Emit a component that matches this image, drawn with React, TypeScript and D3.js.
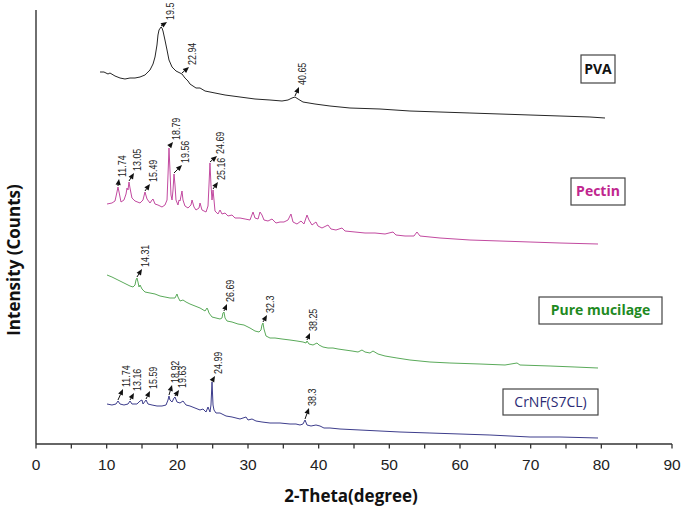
import React from "react";
import * as d3 from "d3";

// ---- data: [2-theta (deg), intensity (counts, offset-stacked)] ----
const pvaData: [number, number][] = [
  [9.06, 3800], [9.62, 3800], [10.19, 3780], [10.47, 3790], [11.18, 3760], [11.89, 3740], [12.59, 3730],
  [13.3, 3740], [14.01, 3740], [14.72, 3750], [15.42, 3770], [16.13, 3820], [16.56, 3880], [16.84, 3950],
  [17.12, 4070], [17.26, 4170], [17.41, 4220], [17.69, 4250], [17.83, 4240], [17.97, 4210], [18.25, 4120],
  [18.54, 4020], [18.82, 3920], [19.25, 3850], [19.81, 3810], [20.38, 3790], [20.66, 3780], [21.08, 3740],
  [21.51, 3710], [21.79, 3680], [22.64, 3640], [23.21, 3640], [23.92, 3610], [25.33, 3590], [26.75, 3570],
  [28.87, 3550], [30.99, 3530], [33.11, 3520], [34.81, 3510], [35.66, 3520], [36.23, 3540], [36.65, 3550],
  [37.08, 3530], [37.78, 3500], [39.48, 3480], [41.6, 3460], [44.43, 3440], [48.68, 3430], [52.92, 3410],
  [57.17, 3400], [61.41, 3390], [65.66, 3380], [69.91, 3370], [74.15, 3360], [78.39, 3350], [80.52, 3340],
];

const pectinData: [number, number][] = [
  [10.05, 2480], [10.75, 2490], [11.18, 2510], [11.46, 2600], [11.6, 2650], [11.75, 2600], [12.03, 2500],
  [12.45, 2520], [12.74, 2580], [12.88, 2640], [13.02, 2620], [13.16, 2700], [13.3, 2640], [13.58, 2540],
  [14.01, 2510], [14.72, 2490], [15.14, 2520], [15.42, 2600], [15.71, 2530], [16.13, 2490], [16.42, 2520],
  [16.56, 2530], [16.84, 2480], [17.26, 2470], [17.83, 2450], [18.25, 2470], [18.54, 2520], [18.68, 2770],
  [18.82, 3040], [18.96, 2820], [19.1, 2570], [19.25, 2520], [19.39, 2620], [19.53, 2780], [19.67, 2670],
  [19.81, 2520], [20.09, 2470], [20.24, 2520], [20.38, 2510], [20.66, 2610], [20.8, 2520], [21.08, 2460],
  [21.51, 2440], [21.93, 2470], [22.08, 2520], [22.36, 2450], [22.64, 2420], [23.07, 2440], [23.21, 2490],
  [23.49, 2420], [24.06, 2400], [24.34, 2460], [24.48, 2670], [24.62, 2890], [24.76, 2670], [24.91, 2520],
  [25.05, 2620], [25.19, 2520], [25.33, 2410], [25.75, 2380], [26.04, 2420], [26.32, 2380], [26.75, 2390],
  [27.17, 2360], [27.74, 2370], [28.16, 2340], [28.87, 2340], [29.58, 2330], [30.28, 2320], [30.71, 2400],
  [30.99, 2340], [31.42, 2330], [31.7, 2400], [31.98, 2370], [32.26, 2320], [32.83, 2310], [33.4, 2330],
  [33.96, 2290], [34.53, 2300], [35.09, 2300], [35.66, 2320], [36.08, 2380], [36.37, 2300], [36.93, 2280],
  [37.5, 2310], [37.92, 2280], [38.35, 2370], [38.63, 2320], [39.06, 2270], [39.62, 2300], [39.9, 2260],
  [40.47, 2240], [41.32, 2270], [41.74, 2230], [42.45, 2220], [43.3, 2240], [43.73, 2210], [45.14, 2200],
  [46.56, 2190], [47.97, 2190], [49.39, 2180], [50.52, 2200], [50.94, 2170], [52.22, 2160], [53.49, 2160],
  [53.91, 2200], [54.34, 2160], [57.17, 2140], [61.41, 2120], [65.66, 2110], [69.91, 2100], [74.15, 2090],
  [79.53, 2080],
];

const mucilageData: [number, number][] = [
  [10.05, 1770], [10.75, 1750], [11.6, 1720], [12.45, 1690], [13.3, 1660], [13.73, 1650], [14.01, 1670],
  [14.15, 1720], [14.29, 1740], [14.43, 1700], [14.58, 1650], [14.72, 1670], [15.0, 1630], [15.42, 1600],
  [16.13, 1590], [16.84, 1580], [17.55, 1560], [18.25, 1550], [18.96, 1540], [19.67, 1540], [19.95, 1580],
  [20.09, 1550], [20.38, 1510], [20.8, 1520], [21.23, 1500], [21.79, 1480], [22.5, 1460], [23.21, 1440],
  [23.92, 1410], [24.2, 1440], [24.34, 1420], [24.48, 1390], [24.91, 1350], [25.47, 1340], [26.04, 1330],
  [26.32, 1340], [26.46, 1390], [26.6, 1400], [26.75, 1340], [27.03, 1310], [27.74, 1300], [28.58, 1280],
  [29.43, 1270], [30.28, 1240], [30.99, 1210], [31.56, 1200], [31.84, 1220], [31.98, 1270], [32.12, 1290],
  [32.26, 1230], [32.55, 1160], [33.11, 1140], [33.82, 1140], [34.81, 1130], [35.94, 1120], [36.93, 1110],
  [37.78, 1100], [38.21, 1090], [38.35, 1110], [38.63, 1080], [39.2, 1070], [39.76, 1090], [40.05, 1070],
  [40.61, 1050], [41.32, 1040], [42.03, 1040], [42.74, 1030], [43.73, 1020], [44.72, 1010], [45.57, 1000],
  [46.13, 1020], [46.56, 1000], [47.26, 990], [47.69, 1010], [48.4, 980], [49.39, 960], [51.08, 940],
  [52.92, 920], [55.75, 900], [58.58, 890], [62.83, 880], [66.37, 870], [68.07, 890], [68.49, 870],
  [72.74, 860], [76.27, 850], [79.53, 840],
];

const crnfData: [number, number][] = [
  [10.05, 480], [10.75, 470], [11.32, 480], [11.6, 510], [11.89, 480], [12.45, 470], [13.02, 480],
  [13.3, 510], [13.58, 480], [14.29, 480], [14.72, 510], [15.0, 520], [15.14, 480], [15.57, 520],
  [15.85, 480], [16.42, 470], [17.12, 460], [17.83, 460], [18.4, 470], [18.68, 520], [18.82, 560],
  [18.96, 520], [19.25, 500], [19.53, 540], [19.67, 550], [19.95, 500], [20.38, 490], [20.8, 510],
  [21.23, 470], [21.79, 460], [22.5, 440], [23.21, 420], [23.63, 430], [24.06, 400], [24.34, 450],
  [24.62, 400], [24.76, 470], [24.91, 700], [25.05, 470], [25.19, 420], [25.47, 390], [26.04, 390],
  [26.89, 360], [27.74, 350], [28.87, 330], [29.72, 350], [30.0, 320], [30.57, 330], [31.13, 310],
  [31.98, 300], [33.11, 290], [34.53, 290], [35.94, 280], [36.79, 280], [37.36, 270], [37.78, 280],
  [38.07, 320], [38.35, 270], [38.92, 260], [39.62, 270], [40.19, 260], [40.75, 240], [41.6, 240],
  [43.02, 230], [45.85, 220], [48.68, 210], [51.51, 200], [55.75, 190], [60.0, 180], [64.24, 170],
  [69.91, 150], [74.15, 150], [79.53, 140],
];

// peak annotations: [label, peak 2θ, peak counts, arrow-tip 2θ, arrow-tip counts]
const pvaPeaks: [string, number, number, number, number][] = [
  ["19.5", 17.69, 4250, 18.54, 4300],
  ["22.94", 20.66, 3780, 21.65, 3850],
  ["40.65", 36.65, 3550, 37.22, 3650],
];
const pectinPeaks: [string, number, number, number, number][] = [
  ["11.74", 11.6, 2650, 11.75, 2730],
  ["13.05", 13.16, 2700, 13.87, 2790],
  ["15.49", 15.42, 2600, 16.13, 2680],
  ["18.79", 18.82, 3040, 19.39, 3100],
  ["19.56", 19.53, 2780, 20.66, 2870],
  ["24.69", 24.62, 2890, 25.61, 2960],
  ["25.16", 25.05, 2620, 25.75, 2700],
];
const mucilagePeaks: [string, number, number, number, number][] = [
  ["14.31", 14.29, 1740, 15.0, 1830],
  ["26.69", 26.6, 1400, 27.03, 1480],
  ["32.3", 32.12, 1290, 32.69, 1370],
  ["38.25", 38.35, 1110, 38.77, 1190],
];
const crnfPeaks: [string, number, number, number, number][] = [
  ["11.74", 11.6, 510, 12.31, 630],
  ["13.16", 13.3, 510, 13.87, 590],
  ["15.59", 15.57, 520, 16.13, 610],
  ["18.92", 18.82, 560, 19.25, 670],
  ["19.63", 19.67, 550, 20.24, 620],
  ["24.99", 24.91, 700, 25.33, 760],
  ["38.3", 38.07, 320, 38.63, 440],
];

const xTickValues = [0, 10, 20, 30, 40, 50, 60, 70, 80, 90];
const xMinorTicks = [5, 15, 25, 35, 45, 55, 65, 75, 85];
const seriesNames = ["PVA", "Pectin", "Pure mucilage", "CrNF(S7CL)"];

const W = 685;
const H = 511;
const x = d3.scaleLinear().domain([0, 90]).range([36, 672]);
const y = d3.scaleLinear().domain([80, 4420]).range([444, 10]);
const line = d3
  .line<[number, number]>()
  .x((d) => x(d[0]))
  .y((d) => y(d[1]));

const series = [
  { name: seriesNames[0], data: pvaData, peaks: pvaPeaks, color: "#262626", labelColor: "#111", bold: true, box: [581, 55, 34, 28] },
  { name: seriesNames[1], data: pectinData, peaks: pectinPeaks, color: "#c24aa0", labelColor: "#c0268e", bold: true, box: [571, 178, 54, 27] },
  { name: seriesNames[2], data: mucilageData, peaks: mucilagePeaks, color: "#5aaa5a", labelColor: "#1f8a1f", bold: true, box: [539, 297, 123, 27] },
  { name: seriesNames[3], data: crnfData, peaks: crnfPeaks, color: "#3d3d8c", labelColor: "#2b2b75", bold: false, box: [503, 389, 95, 26] },
];

const SANS = "'Open Sans', 'DejaVu Sans', sans-serif";

function Arrow({ p }: { p: [string, number, number, number, number] }) {
  const [label, px, py, tx, ty] = p;
  const x0 = x(px);
  const y0 = y(py) - 1;
  const x1 = x(tx);
  const y1 = y(ty);
  const ang = Math.atan2(y1 - y0, x1 - x0);
  const L = 6;
  const Wd = 2.6;
  const bx = x1 - L * Math.cos(ang);
  const by = y1 - L * Math.sin(ang);
  const nx = -Math.sin(ang);
  const ny = Math.cos(ang);
  const head = `M${x1},${y1}L${bx + nx * Wd},${by + ny * Wd}L${bx - nx * Wd},${by - ny * Wd}Z`;
  return (
    <g>
      <line x1={x0} y1={y0} x2={bx} y2={by} stroke="#111" strokeWidth={1} />
      <path d={head} fill="#111" />
      <text
        transform={`translate(${x1 + 4},${y1 - 2}) rotate(-90) scale(0.85,1)`}
        fontFamily="'Liberation Sans', Arial, sans-serif"
        fontSize={10.5}
        fill="#222"
        dominantBaseline="middle"
        textAnchor="start"
      >
        {label}
      </text>
    </g>
  );
}

export default function App() {
  const [y0px] = y.range();
  return (
    <svg
      width={W}
      height={H}
      viewBox={`0 0 ${W} ${H}`}
      style={{ position: "absolute", left: 0, top: 0, background: "#fff" }}
    >
      <rect x={0} y={0} width={W} height={H} fill="#fff" />
      {/* y axis */}
      <line x1={x(0)} y1={y(4420)} x2={x(0)} y2={y0px} stroke="#222" strokeWidth={1.3} />
      {/* x axis */}
      <line x1={x(0)} y1={y0px} x2={x(90)} y2={y0px} stroke="#333" strokeWidth={1.5} />
      {xTickValues.concat(xMinorTicks).map((t) => (
        <line key={"t" + t} x1={x(t)} x2={x(t)} y1={y0px} y2={y0px + 4.5} stroke="#333" strokeWidth={1.3} />
      ))}
      {xTickValues.map((t) => (
        <text
          key={"l" + t}
          x={x(t)}
          y={y0px + 26}
          textAnchor="middle"
          fontFamily="'Liberation Sans', Arial, sans-serif"
          fontSize={15.5}
          fill="#222"
        >
          {t}
        </text>
      ))}
      <text x={351} y={502} textAnchor="middle" fontFamily={SANS} fontWeight={700} fontSize={17} fill="#111">
        2-Theta(degree)
      </text>
      <text
        transform={`translate(20,260) rotate(-90)`}
        textAnchor="middle"
        fontFamily={SANS}
        fontWeight={700}
        fontSize={17}
        fill="#111"
      >
        Intensity (Counts)
      </text>

      {series.map((s) => (
        <g key={s.name}>
          <path d={line(s.data) || ""} fill="none" stroke={s.color} strokeWidth={1} />
          {s.peaks.map((p, i) => (
            <Arrow key={i} p={p} />
          ))}
          <rect
            x={s.box[0]}
            y={s.box[1]}
            width={s.box[2]}
            height={s.box[3]}
            fill="#fff"
            stroke="#444"
            strokeWidth={1.2}
          />
          <text
            x={s.box[0] + s.box[2] / 2}
            y={s.box[1] + s.box[3] / 2 + 1}
            textAnchor="middle"
            dominantBaseline="middle"
            fontFamily={SANS}
            fontWeight={s.bold ? 700 : 400}
            fontSize={14}
            fill={s.labelColor}
          >
            {s.name}
          </text>
        </g>
      ))}
    </svg>
  );
}
